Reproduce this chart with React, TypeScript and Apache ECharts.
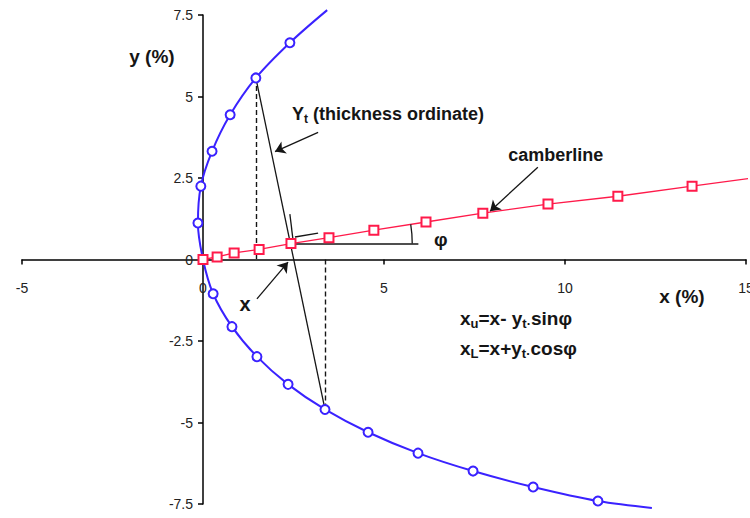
import React, { useEffect, useRef } from "react";
import * as echarts from "echarts";

// Axis ticks
const xTickMin = -5;
const xTickMax = 15;
const xTickStep = 5;
const yTickMin = -7.5;
const yTickMax = 7.5;
const yTickStep = 2.5;

// Airfoil surface (upper end -> leading edge -> lower end)
const surfaceX = [3.43, 2.4, 1.46, 0.75, 0.25, -0.06, -0.14, 0, 0.28, 0.8, 1.49, 2.35, 3.37, 4.56, 5.94, 7.46, 9.12, 10.91, 12.4];
const surfaceY = [7.65, 6.65, 5.57, 4.44, 3.32, 2.25, 1.12, 0, -1.05, -2.06, -2.98, -3.83, -4.6, -5.3, -5.94, -6.49, -6.98, -7.41, -7.62];
const surfaceMarked = [false, true, true, true, true, true, true, false, true, true, true, true, true, true, true, true, true, true, false];

// Camber line
const camberX = [0, 0.39, 0.86, 1.55, 2.43, 3.48, 4.72, 6.16, 7.73, 9.53, 11.46, 13.51, 15.11];
const camberY = [0, 0.08, 0.2, 0.31, 0.49, 0.67, 0.9, 1.15, 1.42, 1.7, 1.94, 2.25, 2.49];
const camberMarked = [true, true, true, true, true, true, true, true, true, true, true, true, false];

// Construction lines (data coordinates)
const thicknessLine = [[1.46, 5.57], [3.37, -4.6]];
const upperDrop = [[1.46, 5.57], [1.46, 0]];
const lowerRise = [[3.37, 0], [3.37, -4.6]];
const phiBase = [[2.43, 0.49], [5.95, 0.49]];
const rightAngleA = [[2.4, 1.39], [2.49, 0.57]];
const rightAngleB = [[2.54, 0.69], [3.18, 0.81]];
const arrowYt = [[3.18, 3.9], [1.99, 3.31]];
const arrowCamber = [[9.25, 2.83], [7.93, 1.48]];
const arrowX = [[1.49, -1.21], [2.35, -0.08]];
const phiArcCenter = [2.43, 0.49];
const phiArcDir = [6.16, 1.15];
const phiArcEndX = 5.78;

// Labels (data coordinates of anchor)
const ytLabelPos = [2.46, 4.45];
const camberLabelPos = [8.43, 3.22];
const xLabelPos = [1.16, -1.37];
const phiLabelPos = [6.57, 0.6];
const formula1Pos = [7.1, -1.82];
const formula2Pos = [7.1, -2.74];
const yNamePos = [-1.41, 6.22];
const xNamePos = [13.23, -1.12];

const FONT = "'Liberation Sans', Arial, Helvetica, sans-serif";
const BLUE = "#3a22ff";
const RED = "#ff1a4a";
const INK = "#151515";

export default function App() {
  const ref = useRef<HTMLDivElement>(null);

  useEffect(() => {
    if (!ref.current) return;
    const chart = echarts.init(ref.current, undefined, { renderer: "svg" });

    const lineSeries = (coords: number[][], dashed = false, arrow = false, width = 1.3) => ({
      type: "lines",
      coordinateSystem: "cartesian2d",
      silent: true,
      z: 3,
      symbol: arrow ? ["none", "arrow"] : ["none", "none"],
      symbolSize: arrow ? [7, 10] : 0,
      lineStyle: { color: INK, width, type: dashed ? [5, 3] : "solid", opacity: 1 },
      data: [{ coords }],
    });

    const axisCommon = {
      type: "value",
      splitLine: { show: false },
      axisLine: { onZero: false, lineStyle: { color: "#000", width: 1.5 } },
      axisTick: { show: true, length: 5, lineStyle: { color: "#000", width: 1.5 } },
    };

    const GRID = { left: 22, right: 4, top: 15, bottom: 14 };

    const option: any = {
      animation: false,
      backgroundColor: "#fff",
      grid: { ...GRID, containLabel: false, outerBoundsMode: "none" },
      xAxis: {
        ...axisCommon,
        position: "bottom",
        min: xTickMin,
        max: xTickMax,
        interval: xTickStep,
        axisLabel: { color: "#222", fontSize: 14, fontFamily: FONT, margin: 21 },
      },
      yAxis: {
        ...axisCommon,
        position: "left",
        min: yTickMin,
        max: yTickMax,
        interval: yTickStep,
        axisLabel: { color: "#222", fontSize: 14, fontFamily: FONT, margin: 10 },
      },
      series: [
        lineSeries(upperDrop, true, false, 1.4),
        lineSeries(lowerRise, true, false, 1.4),
        lineSeries(thicknessLine),
        lineSeries(phiBase, false, false, 1.6),
        lineSeries(rightAngleA),
        lineSeries(rightAngleB),
        lineSeries(arrowYt, false, true),
        lineSeries(arrowCamber, false, true),
        lineSeries(arrowX, false, true),
        {
          type: "line",
          z: 4,
          clip: false,
          smooth: 0.35,
          showAllSymbol: true,
          symbol: "emptyCircle",
          symbolSize: 9,
          lineStyle: { color: BLUE, width: 2 },
          itemStyle: { color: BLUE, borderColor: BLUE, borderWidth: 1.5 },
          data: surfaceX.map((x, i) => ({
            value: [x, surfaceY[i]],
            symbol: surfaceMarked[i] ? "emptyCircle" : "none",
          })),
        },
        {
          type: "line",
          z: 5,
          clip: false,
          showAllSymbol: true,
          symbol: "emptyRect",
          symbolSize: 9,
          lineStyle: { color: RED, width: 1.3 },
          itemStyle: { color: RED, borderColor: RED, borderWidth: 1.5 },
          data: camberX.map((x, i) => ({
            value: [x, camberY[i]],
            symbol: camberMarked[i] ? "emptyRect" : "none",
          })),
        },
      ],
    };

    chart.setOption(option);

    const px = (p: number[]) => chart.convertToPixel({ gridIndex: 0 }, p) as number[];

    // Move both axes so that they cross at the origin (labels follow)
    const origin = px([0, 0]);
    const H = 518;
    chart.setOption({
      xAxis: { offset: -(H - GRID.bottom - origin[1]) },
      yAxis: { offset: -(origin[0] - GRID.left) },
    });

    const txt = (pos: number[], text: string, opts: any = {}) => {
      const [x, y] = px(pos);
      const align = opts.align || "left";
      return {
        type: "text",
        x,
        y,
        z: 10,
        style: {
          text,
          fill: INK,
          fontSize: opts.fontSize || 18,
          fontWeight: "bold",
          fontFamily: FONT,
          align,
          textAlign: align,
          verticalAlign: "middle",
          textVerticalAlign: "middle",
          rich: opts.rich,
        },
      };
    };

    const sub = { fontSize: 12, fontWeight: "bold", fontFamily: FONT, fill: INK, color: INK, padding: [10, 0, 0, 0] };
    const base = { fontSize: 18, fontWeight: "bold", fontFamily: FONT, fill: INK, color: INK };
    const fSub = { ...sub, fontSize: 13 };
    const fBase = { ...base, fontSize: 19 };

    const c = px(phiArcCenter);
    const d = px(phiArcDir);
    const e = px([phiArcEndX, phiArcCenter[1]]);
    const r = e[0] - c[0];
    const startAngle = Math.atan2(d[1] - c[1], d[0] - c[0]);

    chart.setOption({
      graphic: [
        txt(ytLabelPos, "{b|Y}{s|t}{b| (thickness ordinate)}", { rich: { b: base, s: sub } }),
        txt(camberLabelPos, "camberline"),
        txt(xLabelPos, "x", { align: "center", fontSize: 20 }),
        txt(phiLabelPos, "φ", { align: "center", fontSize: 19 }),
        txt(formula1Pos, "{b|x}{s|u}{b|=x- y}{s|t·}{b|sinφ}", { rich: { b: fBase, s: fSub } }),
        txt(formula2Pos, "{b|x}{s|L}{b|=x+y}{s|t·}{b|cosφ}", { rich: { b: fBase, s: fSub } }),
        txt(yNamePos, "y (%)", { align: "center", fontSize: 19 }),
        txt(xNamePos, "x (%)", { align: "center", fontSize: 19 }),
        {
          type: "arc",
          z: 10,
          shape: { cx: c[0], cy: c[1], r, startAngle, endAngle: 0, clockwise: true },
          style: { stroke: INK, lineWidth: 1.3, fill: null },
        },
      ],
    });

    return () => chart.dispose();
  }, []);

  return (
    <div
      ref={ref}
      style={{ position: "fixed", left: 0, top: 0, width: 750, height: 518, background: "#fff" }}
    />
  );
}
